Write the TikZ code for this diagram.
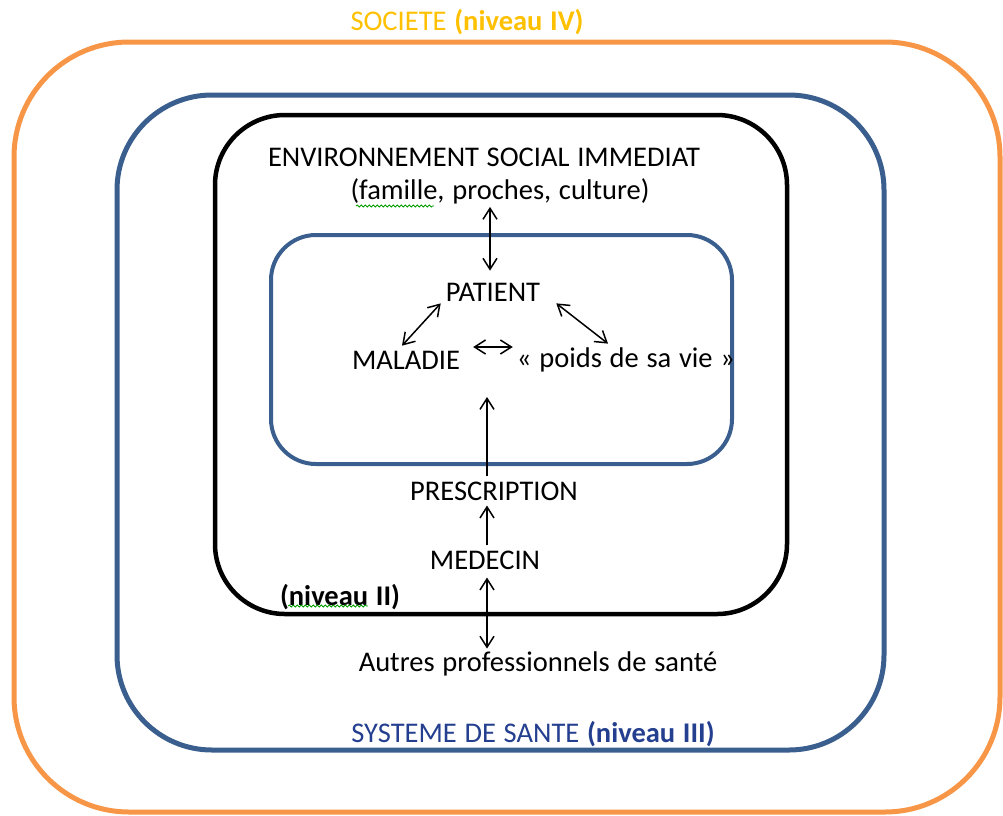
\documentclass[tikz,border=0pt]{standalone}
\usepackage{fontspec}
\setmainfont[WordSpace=1.2]{Carlito}
\usetikzlibrary{arrows.meta,decorations.pathmorphing}
\definecolor{cadreorange}{HTML}{F79646}
\definecolor{cadrebleu}{HTML}{3A5F8E}
\definecolor{texteor}{HTML}{FFC000}
\definecolor{textebleu}{HTML}{243F8F}
\begin{document}
\begin{tikzpicture}[x=1pt,y=-1pt,
    txt/.style={inner sep=0pt,font=\fontsize{28.5}{34}\selectfont},
    fleche/.style={line width=1.5pt,-{Straight Barb[length=11pt,width=14pt]}},
    bifleche/.style={line width=1.5pt,{Straight Barb[length=11pt,width=14pt]}-{Straight Barb[length=11pt,width=14pt]}},
    souligne/.style={green!60!black,line width=0.8pt,decorate,
      decoration={snake,amplitude=1pt,segment length=4pt}}]
  \useasboundingbox (0,0) rectangle (1003,815);
  % les niveaux
  \draw[cadreorange,line width=5pt,rounded corners=115pt] (14,42) rectangle (1000,812);
  \draw[cadrebleu,line width=5pt,rounded corners=95pt] (117,95) rectangle (884,750);
  \draw[black,line width=4.5pt,rounded corners=70pt] (215,115) rectangle (787,614);
  \draw[cadrebleu,line width=4pt,rounded corners=45pt] (271,235) rectangle (732,464);
  % textes
  \node[txt,texteor] (societe) at (467,22) {SOCIETE \textbf{(niveau IV)}};
  \node[txt] (env) at (484,157) {ENVIRONNEMENT SOCIAL IMMEDIAT};
  \node[txt] (proches) at (500,191) {(famille, proches, culture)};
  \node[txt] (patient) at (493,292) {PATIENT};
  \node[txt] (maladie) at (406,360) {MALADIE};
  \node[txt] (poids) at (626,360) {«~poids de sa vie~»};
  \node[txt] (prescription) at (494,491) {PRESCRIPTION};
  \node[txt] (medecin) at (485,560) {MEDECIN};
  \node[txt] (niv2) at (340,597) {\textbf{(niveau II)}};
  \node[txt] (autres) at (538,664) {Autres professionnels de santé};
  \node[txt,textebleu] (systeme) at (533,734) {SYSTEME DE SANTE \textbf{(niveau III)}};
  \coordinate (cible) at (487,397);
  % fleches
  \draw[bifleche,shorten <=3pt,shorten >=12pt] ([xshift=-3pt]patient.north |- proches.south) -- ([xshift=-3pt]patient.north);
  \draw[bifleche] ([xshift=-4pt,yshift=5pt]maladie.north) -- ([xshift=-5pt,yshift=-2pt]patient.south west);
  \draw[bifleche] ([xshift=13pt,yshift=13pt]maladie.east) -- ([xshift=-4pt,yshift=13pt]poids.west);
  \draw[bifleche] ([xshift=16pt,yshift=-2pt]patient.south east) -- ([xshift=-18pt,yshift=4pt]poids.north);
  \draw[fleche,shorten <=5pt] (prescription.north -| cible) -- (cible);
  \draw[fleche,shorten <=5pt,shorten >=5pt] (medecin.north -| cible) -- (prescription.south -| cible);
  \draw[bifleche,shorten <=8pt,shorten >=3pt] (medecin.south -| cible) -- (autres.north -| cible);
  % soulignements
  \draw[souligne] (356,206) -- (434,206);
  \draw[souligne] (288,606) -- (368,606);
\end{tikzpicture}
\end{document}
